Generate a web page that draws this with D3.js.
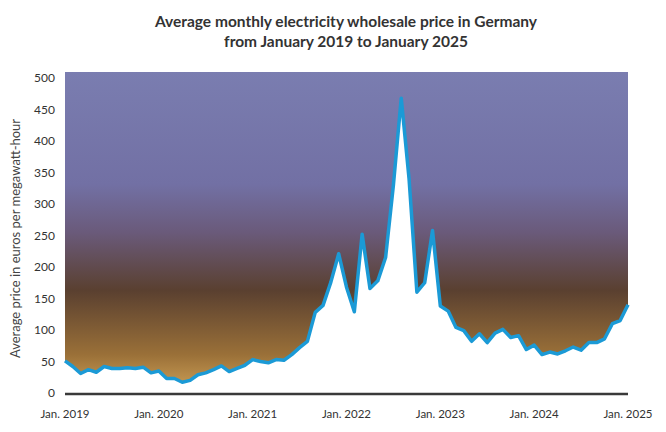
<!DOCTYPE html><html><head><meta charset="utf-8">
<script src="https://cdn.jsdelivr.net/npm/d3@7"></script>
<style>body{margin:0;background:#fff}text{font-family:Lato,"Open Sans",sans-serif}</style></head><body>
<svg id="c" width="666" height="432"></svg>
<script>
const startYear = 2019;
const prices = [
 51,42,31,37,33,42,39,39,40,39,41,32,
 35,23,23,17,20,29,32,37,43,34,39,44,
 53,50,48,53,52,61,72,82,128,139,176,221,
 168,129,252,166,178,215,330,468,340,160,175,258,
 138,130,104,99,82,94,80,95,101,88,91,69,
 76,61,65,62,67,73,68,80,80,86,110,115,
 140
];
const yTicks = [0,50,100,150,200,250,300,350,400,450,500];
const xTickLabels = ["Jan. 2019","Jan. 2020","Jan. 2021","Jan. 2022","Jan. 2023","Jan. 2024","Jan. 2025"];
const title = ["Average monthly electricity wholesale price in Germany","from January 2019 to January 2025"];
const yLabel = "Average price in euros per megawatt-hour";

const svg = d3.select("#c");
const L=65,R=628,T=72,B=393;
const x = d3.scaleLinear().domain([0,prices.length-1]).range([L,R]);
const y = d3.scaleLinear().domain([0,500]).range([B,78]);

const defs = svg.append("defs");
const g = defs.append("linearGradient").attr("id","sky").attr("x1",0).attr("x2",0).attr("y1",0).attr("y2",1);
[[0,"#7a7db0"],[0.35,"#7270a4"],[0.5,"#6a5a7a"],[0.68,"#5a4030"],[0.88,"#9a7038"],[1,"#d0a258"]].forEach(s=>g.append("stop").attr("offset",s[0]).attr("stop-color",s[1]));

svg.append("rect").attr("x",L).attr("y",T).attr("width",R-L).attr("height",B-T).attr("fill","url(#sky)");
const area = d3.area().x((d,i)=>x(i)).y0(B).y1(d=>y(d));
svg.append("path").datum(prices).attr("d",area).attr("fill","#fff");
svg.append("path").datum(prices).attr("d",d3.line().x((d,i)=>x(i)).y(d=>y(d)))
  .attr("fill","none").attr("stroke","#1b9ad6").attr("stroke-width",3.5).attr("stroke-linejoin","round");

svg.append("line").attr("x1",L).attr("x2",R).attr("y1",B+1).attr("y2",B+1).attr("stroke","#3a3a3a").attr("stroke-width",2.5);

svg.selectAll(".yt").data(yTicks).join("text").attr("x",55).attr("y",d=>y(d)+4)
  .attr("text-anchor","end").attr("font-size",12).attr("fill","#333").text(d=>d);
svg.selectAll(".xt").data(xTickLabels).join("text").attr("x",(d,i)=>x(i*12)).attr("y",418)
  .attr("text-anchor","middle").attr("font-size",11.5).attr("fill","#333").text(d=>d);
svg.append("text").attr("transform",`translate(20,${(T+B)/2+6}) rotate(-90)`).attr("text-anchor","middle")
  .attr("font-size",13).attr("fill","#444").text(yLabel);
svg.selectAll(".tt").data(title).join("text").attr("x",346).attr("y",(d,i)=>27+i*20)
  .attr("text-anchor","middle").attr("font-size",15.5).attr("font-weight","bold").attr("fill","#333").text(d=>d);
</script></body></html>
